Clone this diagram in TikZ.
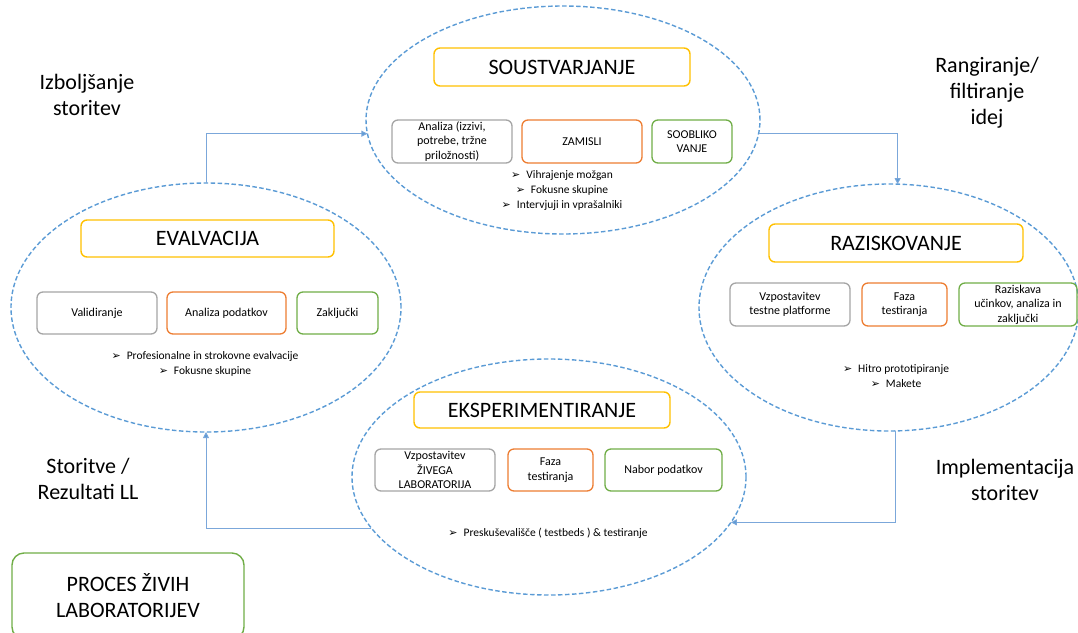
\documentclass[tikz,border=0pt]{standalone}
\usepackage{fontspec}
\setmainfont{Carlito}
\newfontfamily\symfont{DejaVu Sans}
\usetikzlibrary{shapes.geometric,arrows.meta}

\definecolor{phaseblue}{HTML}{5B9BD5}
\definecolor{linkblue}{HTML}{7BA7DA}
\definecolor{cgray}{HTML}{A5A5A5}
\definecolor{corange}{HTML}{ED7D31}
\definecolor{cgreen}{HTML}{70AD47}
\definecolor{cgold}{HTML}{FFC000}

% arrow-head bullet
\newcommand{\bul}{{\symfont\fontsize{11}{11}\selectfont ➢}\hspace{6pt}}

\tikzset{
  phase/.style={ellipse, draw=phaseblue, line width=1.4pt,
    dash pattern=on 4.5pt off 2.5pt, inner sep=0pt, outer sep=0pt},
  titlebox/.style={draw=cgold, line width=1.4pt, rounded corners=6pt,
    inner sep=0pt, font=\fontsize{22}{26}\selectfont},
  itembox/.style={rounded corners=6pt, line width=1.3pt, inner sep=0pt,
    align=center, font=\fontsize{12}{14.5}\selectfont},
  graybox/.style={itembox, draw=cgray},
  orangebox/.style={itembox, draw=corange},
  greenbox/.style={itembox, draw=cgreen},
  bullets/.style={align=center, font=\fontsize{11.5}{15}\selectfont},
  sidelabel/.style={align=center, font=\fontsize{22}{26}\selectfont},
  link/.style={draw=linkblue, line width=0.9pt,
    -{Triangle[width=6pt,length=6pt,fill=phaseblue]}}
}

\begin{document}
\begin{tikzpicture}[x=1pt,y=-1pt]
\useasboundingbox (0,0) rectangle (1078,632);

% the four phases
\node[phase, minimum width=394, minimum height=228] (sou) at (563,120) {};
\node[phase, minimum width=390, minimum height=249] (ev)  at (206,307.5) {};
\node[phase, minimum width=380, minimum height=247] (raz) at (889,307.5) {};
\node[phase, minimum width=394, minimum height=236] (eks) at (549,477) {};

% SOUSTVARJANJE
\node[titlebox, minimum width=256, minimum height=38] (t1) at (562,67) {SOUSTVARJANJE};
\node[graybox, minimum width=120, minimum height=43] (s1) at (452,141.5) {Analiza (izzivi,\\potrebe, tržne\\priložnosti)};
\node[orangebox, minimum width=120, minimum height=43] (s2) at (582,141.5) {ZAMISLI};
\node[greenbox, minimum width=80, minimum height=43] (s3) at (692,141.5) {SOOBLIKO\\VANJE};
\node[bullets] (sb) at (562,190) {\bul Vihrajenje možgan\\\bul Fokusne skupine\\\bul Intervjuji in vprašalniki};

% EVALVACIJA
\node[titlebox, minimum width=253, minimum height=37] (t2) at (207.5,238.5) {EVALVACIJA};
\node[graybox, minimum width=120, minimum height=42] (e1) at (97,313) {Validiranje};
\node[orangebox, minimum width=119, minimum height=42] (e2) at (226.5,313) {Analiza podatkov};
\node[greenbox, minimum width=81, minimum height=42] (e3) at (337.5,313) {Zaključki};
\node[bullets] (eb) at (205,363.5) {\bul Profesionalne in strokovne evalvacije\\\bul Fokusne skupine};

% RAZISKOVANJE
\node[titlebox, minimum width=254, minimum height=38] (t3) at (896,243) {RAZISKOVANJE};
\node[graybox, minimum width=120, minimum height=43] (r1) at (790,304.5) {Vzpostavitev\\testne platforme};
\node[orangebox, minimum width=85, minimum height=43] (r2) at (904.5,304.5) {Faza\\testiranja};
\node[greenbox, minimum width=118, minimum height=43] (r3) at (1018,304.5) {Raziskava\\učinkov, analiza in\\zaključki};
\node[bullets] (rb) at (896,376.5) {\bul Hitro prototipiranje\\\bul Makete};

% EKSPERIMENTIRANJE
\node[titlebox, minimum width=256, minimum height=36] (t4) at (542,410) {EKSPERIMENTIRANJE};
\node[graybox, minimum width=120, minimum height=42] (x1) at (435,470) {Vzpostavitev\\ŽIVEGA\\LABORATORIJA};
\node[orangebox, minimum width=85, minimum height=42] (x2) at (550.5,470) {Faza\\testiranja};
\node[greenbox, minimum width=117, minimum height=42] (x3) at (663.5,470) {Nabor podatkov};
\node[bullets] (xb) at (548,533) {\bul Preskuševališče ( testbeds ) \& testiranje};

% transitions between phases
\node[sidelabel] (l1) at (87,95) {Izboljšanje\\storitev};
\node[sidelabel] (l2) at (987,93) {Rangiranje/\\filtiranje\\idej};
\node[sidelabel] (l3) at (88,479) {Storitve /\\Rezultati LL};
\node[sidelabel] (l4) at (1005,480) {Implementacija\\storitev};

\draw[link] (ev.north) |- (sou.184);
\draw[link] (sou.-4) -| (raz.86);
\draw[link] (raz.-87) |- (eks.-14);
\draw[link] (eks.196) -| (ev.south);

% process label
\node[draw=cgreen, line width=1.4pt, rounded corners=12pt, minimum width=232, minimum height=86,
      inner sep=0pt, align=center, font=\fontsize{22}{26}\selectfont] (proc) at (128,596)
      {PROCES ŽIVIH\\LABORATORIJEV};
\end{tikzpicture}
\end{document}
